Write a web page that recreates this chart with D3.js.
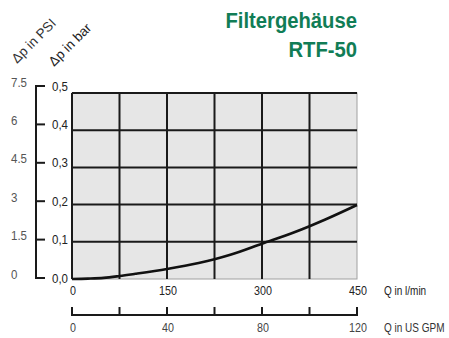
<!DOCTYPE html>
<html><head><meta charset="utf-8">
<script src="https://cdn.jsdelivr.net/npm/d3@7"></script>
<style>
body{margin:0;background:#fff;}
svg text{font-family:"Liberation Sans",Arial,sans-serif;}
</style></head>
<body><svg id="c" width="449" height="338"></svg>
<script>
const flowLmin = [0, 25, 50, 75, 100, 150, 200, 225, 250, 300, 350, 375, 400, 450];
const dpBar   = [0, 0.001, 0.003, 0.008, 0.014, 0.027, 0.043, 0.053, 0.065, 0.095, 0.125, 0.142, 0.160, 0.199];
const barTicks = [0, 0.1, 0.2, 0.3, 0.4, 0.5];
const psiTicks = ["0", "1.5", "3", "4.5", "6", "7.5"];
const lminTicks = [0, 150, 300, 450];
const gpmTicks = [0, 20, 40, 60, 80, 100, 120];
const gpmLabels = [0, 40, 80, 120];
const titleLines = ["Filtergehäuse", "RTF-50"];

const svg = d3.select("#c");
const x = d3.scaleLinear().domain([0, 450]).range([72, 357]);
const y = d3.scaleLinear().domain([0, 0.5]).range([279, 93]);
const yb = d3.scaleLinear().domain([0, 0.5]).range([278, 86]);
const xg = d3.scaleLinear().domain([0, 120]).range([72, 357]);
const green = "#117d56";
const SX = 0.86;
const tr = (px, py, sx) => `translate(${px},${py}) scale(${sx},1)`;

// title
svg.selectAll("text.title").data(titleLines).join("text")
  .attr("class","title")
  .attr("transform", (d,i)=> tr(357, 28 + i*29, 0.9))
  .attr("text-anchor","end").attr("fill", green)
  .style("font-size","22.5px").style("font-weight","bold").text(d=>d);

// plot background
svg.append("rect").attr("x", x(0)).attr("y", y(0.5))
  .attr("width", x(450)-x(0)).attr("height", y(0)-y(0.5))
  .attr("fill","#e6e6e6").attr("stroke","#a0a0a0").attr("stroke-width",1);

const g = svg.append("g").attr("stroke","#1a1a1a").attr("stroke-width",2);
g.selectAll("line.v").data(d3.range(0, 450, 75)).join("line")
  .attr("x1", d=>x(d)).attr("x2", d=>x(d)).attr("y1", y(0.5)).attr("y2", y(0));
g.selectAll("line.h").data([0.1,0.2,0.3,0.4,0.5]).join("line")
  .attr("y1", d=>y(d)).attr("y2", d=>y(d)).attr("x1", x(0)).attr("x2", x(450));

// curve
svg.append("path").datum(flowLmin.map((f,i)=>[f, dpBar[i]]))
  .attr("d", d3.line().x(d=>x(d[0])).y(d=>y(d[1])).curve(d3.curveMonotoneX))
  .attr("fill","none").attr("stroke","#111").attr("stroke-width",2.6);

// left bracket axis (bar)
const axB = svg.append("g").attr("stroke","#1a1a1a").attr("stroke-width",2);
axB.append("line").attr("x1",36).attr("x2",36).attr("y1",yb(0.5)).attr("y2",yb(0));
axB.selectAll("line.t").data(barTicks).join("line")
  .attr("x1",35).attr("x2",45).attr("y1",d=>yb(d)).attr("y2",d=>yb(d));
svg.selectAll("text.bar").data(barTicks).join("text")
  .attr("transform",d=>tr(52, yb(d)+4.5, 0.92)).attr("fill","#222")
  .style("font-size","12.5px").text(d=>d3.format(".1f")(d).replace(".",","));

// PSI labels
const yp = d3.scaleLinear().domain([0,5]).range([274, 82]);
svg.selectAll("text.psi").data(psiTicks).join("text")
  .attr("transform",(d,i)=>tr(11, yp(i)+4.5, 0.92)).attr("fill","#555")
  .style("font-size","12.5px").text(d=>d);

// axis titles
svg.append("text").attr("transform","translate(17,64) rotate(-45)")
  .attr("fill","#333").style("font-size","13.5px").text("Δp in PSI");
svg.append("text").attr("transform","translate(54,67) rotate(-45)")
  .attr("fill","#222").style("font-size","13.5px").text("Δp in bar");

// l/min labels
svg.selectAll("text.lm").data(lminTicks).join("text")
  .attr("transform",d=>tr(x(d)+1, 295, SX)).attr("text-anchor","middle")
  .attr("fill","#222").style("font-size","12.5px").text(d=>d);
svg.append("text").attr("transform",tr(384,295,0.8)).attr("fill","#222")
  .style("font-size","12.5px").text("Q in l/min");

// GPM axis
const axG = svg.append("g").attr("stroke","#1a1a1a").attr("stroke-width",2);
axG.append("line").attr("x1",xg(0)-1).attr("x2",xg(120)+1).attr("y1",315).attr("y2",315);
axG.selectAll("line.t").data(gpmTicks).join("line")
  .attr("x1",d=>xg(d)).attr("x2",d=>xg(d)).attr("y1",315).attr("y2",307);
svg.selectAll("text.gpm").data(gpmLabels).join("text")
  .attr("transform",d=>tr(xg(d)+1, 332, SX)).attr("text-anchor","middle")
  .attr("fill","#444").style("font-size","12.5px").text(d=>d);
svg.append("text").attr("transform",tr(384,332,0.8)).attr("fill","#333")
  .style("font-size","12.5px").text("Q in US GPM");
</script></body></html>
